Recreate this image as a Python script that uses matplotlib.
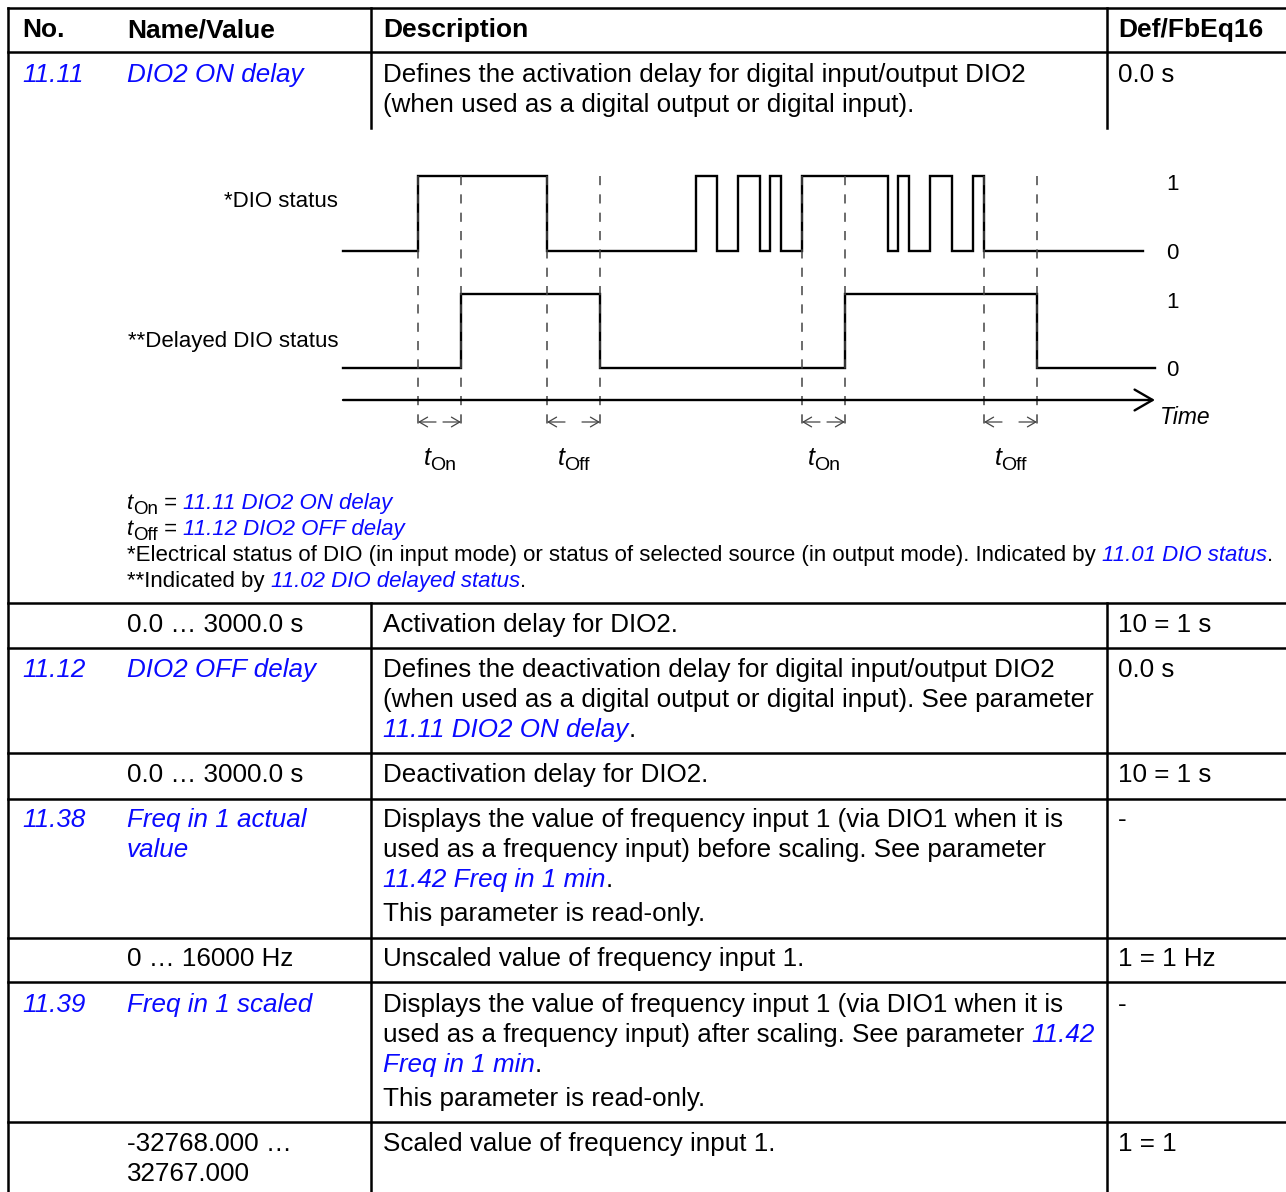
import matplotlib
matplotlib.use('Agg')
import matplotlib.pyplot as plt

plt.rcParams['font.family'] = ['Liberation Sans', 'DejaVu Sans']

BLUE = '#0a0aff'

# ---- table content ----
headers = ['No.', 'Name/Value', 'Description', 'Def/FbEq16']

# each row: (number, name lines, description lines, default)
# description lines are lists of (text, is_link)
rows = [
    ('11.11', ['DIO2 ON delay'],
     [[('Defines the activation delay for digital input/output DIO2', False)],
      [('(when used as a digital output or digital input).', False)]],
     '0.0 s'),
    ('', ['0.0 \u2026 3000.0 s'],
     [[('Activation delay for DIO2.', False)]],
     '10 = 1 s'),
    ('11.12', ['DIO2 OFF delay'],
     [[('Defines the deactivation delay for digital input/output DIO2', False)],
      [('(when used as a digital output or digital input). See parameter', False)],
      [('11.11 DIO2 ON delay', True), ('.', False)]],
     '0.0 s'),
    ('', ['0.0 \u2026 3000.0 s'],
     [[('Deactivation delay for DIO2.', False)]],
     '10 = 1 s'),
    ('11.38', ['Freq in 1 actual', 'value'],
     [[('Displays the value of frequency input 1 (via DIO1 when it is', False)],
      [('used as a frequency input) before scaling. See parameter', False)],
      [('11.42 Freq in 1 min', True), ('.', False)],
      [('This parameter is read-only.', False)]],
     '-'),
    ('', ['0 \u2026 16000 Hz'],
     [[('Unscaled value of frequency input 1.', False)]],
     '1 = 1 Hz'),
    ('11.39', ['Freq in 1 scaled'],
     [[('Displays the value of frequency input 1 (via DIO1 when it is', False)],
      [('used as a frequency input) after scaling. See parameter ', False), ('11.42', True)],
      [('Freq in 1 min', True), ('.', False)],
      [('This parameter is read-only.', False)]],
     '-'),
    ('', ['-32768.000 \u2026', '32767.000'],
     [[('Scaled value of frequency input 1.', False)]],
     '1 = 1'),
]

footnotes = [
    [('*Electrical status of DIO (in input mode) or status of selected source (in output mode). Indicated by ', False),
     ('11.01 DIO status', True), ('.', False)],
    [('**Indicated by ', False), ('11.02 DIO delayed status', True), ('.', False)],
]
delay_refs = [('On', '11.11 DIO2 ON delay'), ('Off', '11.12 DIO2 OFF delay')]

# ---- timing diagram data (time units) ----
dio_edges = [75, 204, 353, 374, 395, 417, 427, 438, 459, 545, 555, 566, 587, 609, 630, 641]
dio_end = 800
delayed_edges = [118, 257, 502, 694]
delayed_end = 812
delay_spans = [(75, 118, 'On'), (204, 257, 'Off'), (459, 502, 'On'), (641, 694, 'Off')]
signal_names = ['*DIO status', '**Delayed DIO status']

# ---- layout (pixels) ----
W, H = 1286, 1192
fig = plt.figure(figsize=(W / 100, H / 100), dpi=100)
ax = fig.add_axes([0, 0, 1, 1])
ax.set_xlim(0, W)
ax.set_ylim(H, 0)
ax.axis('off')
renderer = fig.canvas.get_renderer()

col_x = [22, 127, 383, 1118]
row_top = [52, 603, 648, 753, 799, 938, 982, 1122]
first_baseline = [82, 632, 677, 782, 827, 966, 1012, 1151]
line_step = 30
lw_tab = 1.8
FS = 18.7
FS_SMALL = 16


def draw_runs(x, y, parts, size=FS):
    for txt, link in parts:
        t = ax.text(x, y, txt, fontsize=size, va='baseline', ha='left',
                    color=BLUE if link else 'black',
                    style='italic' if link else 'normal')
        x += t.get_window_extent(renderer).width
    return x


def t_symbol(x, y, sub, size=18, subsize=14):
    t = ax.text(x, y, 't', fontsize=size, style='italic', va='baseline')
    x += t.get_window_extent(renderer).width
    s = ax.text(x, y + 5, sub, fontsize=subsize, va='baseline')
    return x + s.get_window_extent(renderer).width


# table lines
ax.plot([8, W], [8, 8], color='black', lw=lw_tab)
for y in row_top:
    ax.plot([8, W], [y, y], color='black', lw=lw_tab)
ax.plot([8, 8], [8, H], color='black', lw=lw_tab)
for x in [371, 1107]:
    ax.plot([x, x], [8, 128], color='black', lw=lw_tab)
    ax.plot([x, x], [603, H], color='black', lw=lw_tab)

# header
for cx, h in zip(col_x, headers):
    ax.text(cx, 37, h, fontsize=19, fontweight='bold', va='baseline')

# rows
for (num, names, desc, dflt), yb in zip(rows, first_baseline):
    if num:
        ax.text(col_x[0], yb, num, fontsize=FS, color=BLUE, style='italic', va='baseline')
    for i, nm in enumerate(names):
        ax.text(col_x[1], yb + i * line_step, nm, fontsize=FS, va='baseline',
                color=BLUE if num else 'black', style='italic' if num else 'normal')
    for i, parts in enumerate(desc):
        extra = 4 if (i == 3) else 0
        draw_runs(col_x[2], yb + i * line_step + extra, parts)
    ax.text(col_x[3], yb, dflt, fontsize=FS, va='baseline')

# ---- timing diagram ----
x0 = 343
lw_sig = 1.7


def step_xy(edges, end):
    xs, ys, st = [0], [0], 0
    for e in edges:
        xs += [e, e]
        ys += [st, 1 - st]
        st = 1 - st
    xs.append(end)
    ys.append(st)
    return xs, ys


for (edges, end), low, amp in [((dio_edges, dio_end), 251, 75),
                               ((delayed_edges, delayed_end), 368, 74)]:
    xs, ys = step_xy(edges, end)
    ax.plot([x0 + v for v in xs], [low - amp * v for v in ys],
            color='black', lw=lw_sig, solid_joinstyle='miter')
    ax.text(1172, low + 8, '0', fontsize=FS_SMALL, ha='center', va='baseline')
    ax.text(1172, low - amp + 14, '1', fontsize=FS_SMALL, ha='center', va='baseline')

ax.text(338, 207, signal_names[0], fontsize=FS_SMALL, ha='right', va='baseline')
ax.text(338, 347, signal_names[1], fontsize=FS_SMALL, ha='right', va='baseline')

# time axis
ax.annotate('', xy=(1155, 400), xytext=(x0, 400),
            arrowprops=dict(arrowstyle='->,head_length=1.3,head_width=0.75',
                            color='black', lw=lw_sig, shrinkA=0, shrinkB=0))
ax.text(1160, 424, 'Time', fontsize=16.5, style='italic', va='baseline')

# dashed markers and delay arrows
for a, b, lab in delay_spans:
    for t in (a, b):
        ax.plot([x0 + t, x0 + t], [176, 430], color='#444444', lw=1.1,
                dashes=(6, 6))
    ax.annotate('', xy=(x0 + a, 422), xytext=(x0 + a + 18, 422),
                arrowprops=dict(arrowstyle='->,head_length=0.6,head_width=0.35',
                                color='#444444', lw=0.9, shrinkA=0, shrinkB=0))
    ax.annotate('', xy=(x0 + b, 422), xytext=(x0 + b - 18, 422),
                arrowprops=dict(arrowstyle='->,head_length=0.6,head_width=0.35',
                                color='#444444', lw=0.9, shrinkA=0, shrinkB=0))
    t_symbol(x0 + (a + b) / 2 - 16, 465, lab, size=18, subsize=14)

# footnotes under diagram
for i, (sub, ref) in enumerate(delay_refs):
    yb = 509 + i * 26
    x = t_symbol(127, yb, sub, size=16, subsize=13.5)
    draw_runs(x, yb, [(' = ', False), (ref, True)], size=FS_SMALL)
for i, parts in enumerate(footnotes):
    draw_runs(127, 561 + i * 26, parts, size=FS_SMALL)

fig.savefig('out.png', dpi=100)
